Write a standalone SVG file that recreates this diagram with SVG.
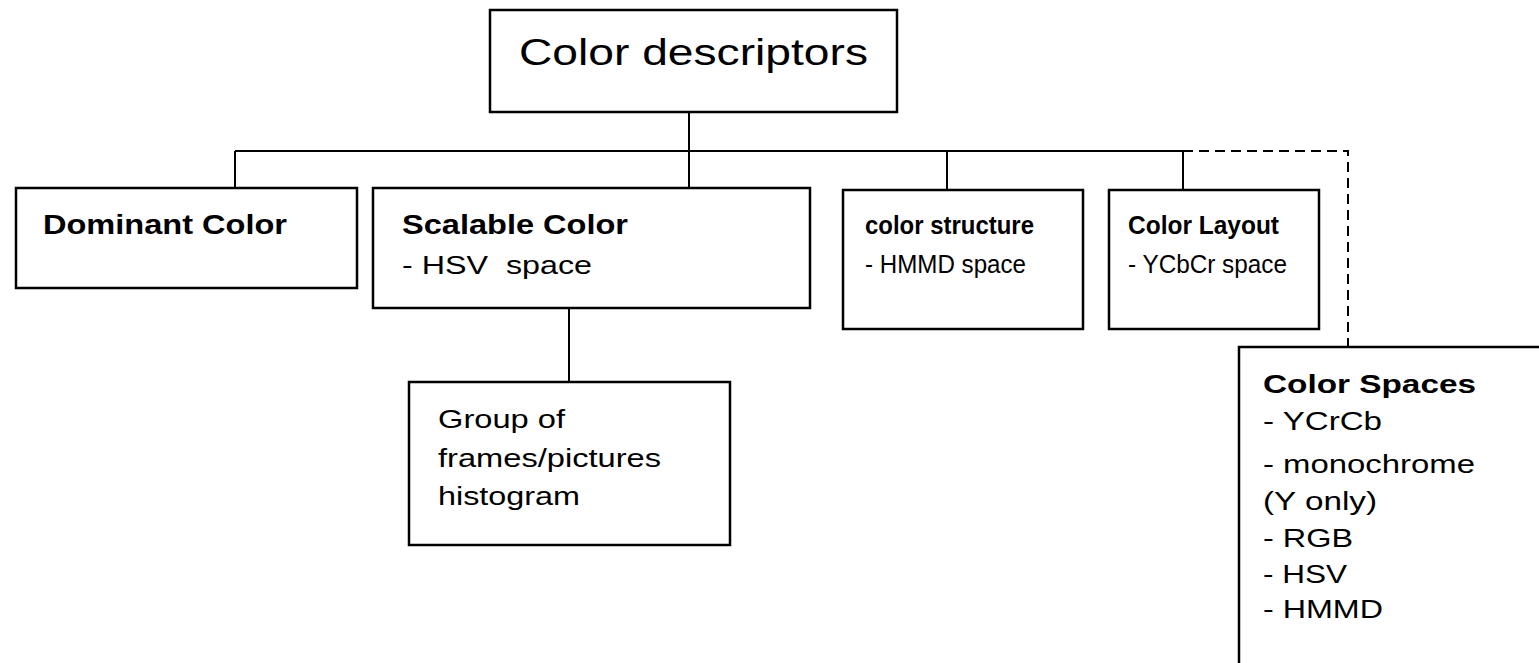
<svg xmlns="http://www.w3.org/2000/svg" width="1539" height="663" viewBox="0 0 1539 663">
<style>
.box{fill:#fff;stroke:#000;stroke-width:2.5}
.ln{fill:none;stroke:#000;stroke-width:2}
.dash{fill:none;stroke:#000;stroke-width:2;stroke-dasharray:10 6}
text{font-family:"Liberation Sans",Arial,Helvetica,sans-serif;fill:#000;white-space:pre}
.t{font-size:37px}
.b{font-size:28px;font-weight:bold}
.b2{font-size:26px;font-weight:bold}
.r{font-size:26px}
.r2{font-size:25px}
.cs{font-size:25px}
</style>
<rect width="1539" height="663" fill="#fff"/>
<g id="connectors">
<line class="ln" x1="689" y1="112" x2="689" y2="188"/>
<line class="ln" x1="235" y1="151" x2="1183" y2="151"/>
<line class="ln" x1="235" y1="151" x2="235" y2="188"/>
<line class="ln" x1="947" y1="151" x2="947" y2="190"/>
<line class="ln" x1="1183" y1="151" x2="1183" y2="190"/>
<line class="ln" x1="569" y1="308" x2="569" y2="382"/>
<polyline class="dash" points="1183,151 1348,151 1348,347"/>
</g>
<g id="root">
<rect class="box" x="490" y="10" width="407" height="102"/>
<text class="t" x="519" y="65" textLength="349" lengthAdjust="spacingAndGlyphs">Color descriptors</text>
</g>
<g id="dominant">
<rect class="box" x="16" y="188" width="341" height="100"/>
<text class="b" x="43" y="234" textLength="244" lengthAdjust="spacingAndGlyphs">Dominant Color</text>
</g>
<g id="scalable">
<rect class="box" x="373" y="188" width="437" height="120"/>
<text class="b" x="402" y="234" textLength="226" lengthAdjust="spacingAndGlyphs">Scalable Color</text>
<text class="r" x="402" y="274" textLength="190" lengthAdjust="spacingAndGlyphs" xml:space="preserve">- HSV  space</text>
</g>
<g id="structure">
<rect class="box" x="843" y="190" width="240" height="139"/>
<text class="b2" x="865" y="234" textLength="169" lengthAdjust="spacingAndGlyphs">color structure</text>
<text class="r2" x="865" y="273" textLength="161" lengthAdjust="spacingAndGlyphs">- HMMD space</text>
</g>
<g id="layout">
<rect class="box" x="1109" y="190" width="210" height="139"/>
<text class="b2" x="1128" y="234" textLength="151" lengthAdjust="spacingAndGlyphs">Color Layout</text>
<text class="r2" x="1128" y="273" textLength="159" lengthAdjust="spacingAndGlyphs">- YCbCr space</text>
</g>
<g id="group">
<rect class="box" x="409" y="382" width="321" height="163"/>
<text class="r" x="438" y="428" textLength="127" lengthAdjust="spacingAndGlyphs">Group of</text>
<text class="r" x="438" y="467" textLength="223" lengthAdjust="spacingAndGlyphs">frames/pictures</text>
<text class="r" x="438" y="505" textLength="142" lengthAdjust="spacingAndGlyphs">histogram</text>
</g>
<g id="spaces">
<rect class="box" x="1239" y="347" width="400" height="400"/>
<text class="b2" x="1263" y="393" textLength="213" lengthAdjust="spacingAndGlyphs">Color Spaces</text>
<text class="cs" x="1263" y="430" textLength="119" lengthAdjust="spacingAndGlyphs">- YCrCb</text>
<text class="cs" x="1263" y="473" textLength="212" lengthAdjust="spacingAndGlyphs">- monochrome</text>
<text class="cs" x="1263" y="510" textLength="114" lengthAdjust="spacingAndGlyphs">(Y only)</text>
<text class="cs" x="1263" y="547" textLength="90" lengthAdjust="spacingAndGlyphs">- RGB</text>
<text class="cs" x="1263" y="583" textLength="84" lengthAdjust="spacingAndGlyphs">- HSV</text>
<text class="cs" x="1263" y="618" textLength="120" lengthAdjust="spacingAndGlyphs">- HMMD</text>
</g>
</svg>
